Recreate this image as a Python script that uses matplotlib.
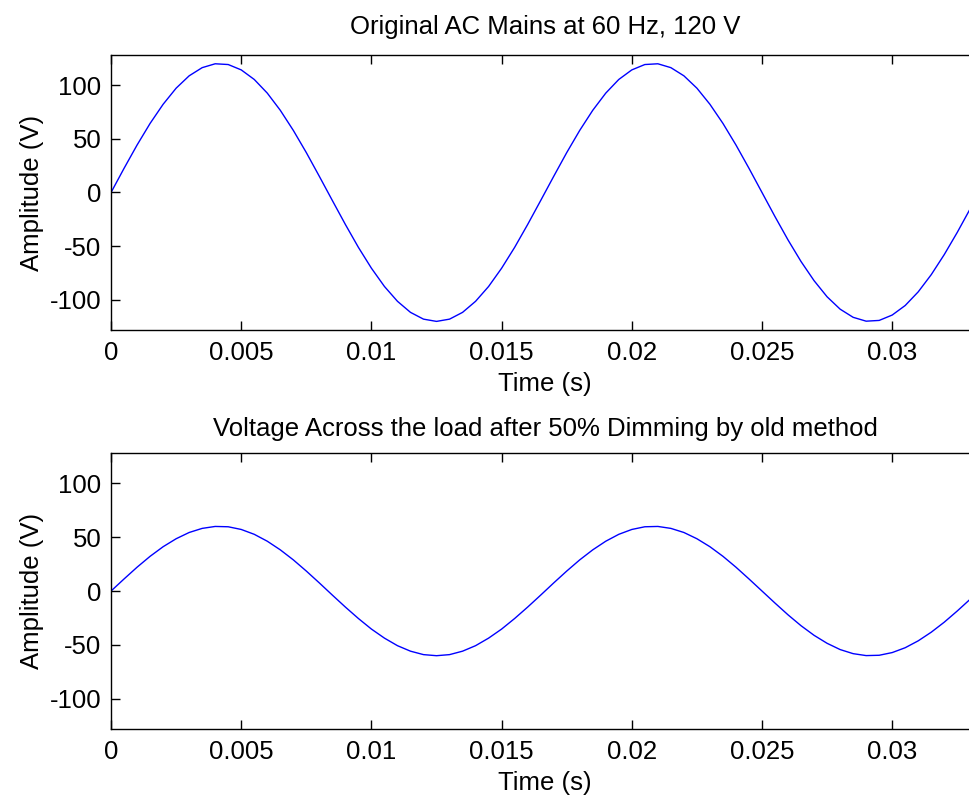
import matplotlib
matplotlib.use('Agg')
import matplotlib.pyplot as plt

# sample times (s) and voltages
time_s = [0.0000, 0.0005, 0.0010, 0.0015, 0.0020, 0.0025, 0.0030, 0.0035,
          0.0040, 0.0045, 0.0050, 0.0055, 0.0060, 0.0065, 0.0070, 0.0075,
          0.0080, 0.0085, 0.0090, 0.0095, 0.0100, 0.0105, 0.0110, 0.0115,
          0.0120, 0.0125, 0.0130, 0.0135, 0.0140, 0.0145, 0.0150, 0.0155,
          0.0160, 0.0165, 0.0170, 0.0175, 0.0180, 0.0185, 0.0190, 0.0195,
          0.0200, 0.0205, 0.0210, 0.0215, 0.0220, 0.0225, 0.0230, 0.0235,
          0.0240, 0.0245, 0.0250, 0.0255, 0.0260, 0.0265, 0.0270, 0.0275,
          0.0280, 0.0285, 0.0290, 0.0295, 0.0300, 0.0305, 0.0310, 0.0315,
          0.0320, 0.0325, 0.0330, 0.0335]

mains_v = [0.0, 22.5, 44.2, 64.3, 82.1, 97.1, 108.6, 116.2,
           119.8, 119.1, 114.1, 105.2, 92.5, 76.5, 57.8, 37.1,
           15.0, -7.5, -29.8, -51.1, -70.5, -87.5, -101.3, -111.6,
           -117.9, -120.0, -117.9, -111.6, -101.3, -87.5, -70.5, -51.1,
           -29.8, -7.5, 15.0, 37.1, 57.8, 76.5, 92.5, 105.2,
           114.1, 119.1, 119.8, 116.2, 108.6, 97.1, 82.1, 64.3,
           44.2, 22.5, 0.0, -22.5, -44.2, -64.3, -82.1, -97.1,
           -108.6, -116.2, -119.8, -119.1, -114.1, -105.2, -92.5, -76.5,
           -57.8, -37.1, -15.0, 7.5]

dimmed_v = [0.0, 11.2, 22.1, 32.2, 41.1, 48.5, 54.3, 58.1,
            59.9, 59.6, 57.1, 52.6, 46.2, 38.2, 28.9, 18.5,
            7.5, -3.8, -14.9, -25.5, -35.3, -43.7, -50.7, -55.8,
            -59.0, -60.0, -59.0, -55.8, -50.7, -43.7, -35.3, -25.5,
            -14.9, -3.8, 7.5, 18.5, 28.9, 38.2, 46.2, 52.6,
            57.1, 59.6, 59.9, 58.1, 54.3, 48.5, 41.1, 32.2,
            22.1, 11.2, 0.0, -11.2, -22.1, -32.2, -41.1, -48.5,
            -54.3, -58.1, -59.9, -59.6, -57.1, -52.6, -46.2, -38.2,
            -28.9, -18.5, -7.5, 3.8]

titles = ['Original AC Mains at 60 Hz, 120 V',
          'Voltage Across the load after 50% Dimming by old method']
xticks = [0, 0.005, 0.01, 0.015, 0.02, 0.025, 0.03]
xtick_labels = ['0', '0.005', '0.01', '0.015', '0.02', '0.025', '0.03']
yticks = [-100, -50, 0, 50, 100]

plt.rcParams['font.family'] = ['Liberation Sans', 'DejaVu Sans']
plt.rcParams['font.size'] = 18.5
plt.rcParams['axes.unicode_minus'] = False

fig = plt.figure(figsize=(9.69, 7.99), dpi=100)
# right edge of the axes runs slightly past the picture, as in the reference
ax1 = fig.add_axes([0.1146, 0.5870, 0.8957, 0.3442])
ax2 = fig.add_axes([0.1146, 0.0876, 0.8957, 0.3454])

for ax, volts, title, tpad in zip([ax1, ax2], [mains_v, dimmed_v], titles,
                                  [15, 12]):
    ax.plot(time_s, volts, color='#0000ff', lw=1.0)
    ax.set_xlim(0, 2.0 / 60)
    ax.set_ylim(-128, 128)
    ax.set_xticks(xticks)
    ax.set_xticklabels(xtick_labels)
    ax.set_yticks(yticks)
    ax.tick_params(direction='in', length=6.5, width=1.0, top=True,
                   right=True, labelsize=18.5)
    ax.tick_params(axis='x', pad=8)
    ax.tick_params(axis='y', pad=7)
    for sp in ax.spines.values():
        sp.set_linewidth(1.0)
    ax.set_xlabel('Time (s)', fontsize=18.5, labelpad=5)
    ax.set_ylabel('Amplitude (V)', fontsize=18.5, labelpad=4)
    ax.set_title(title, fontsize=18.5, pad=tpad)

fig.savefig('out.png', dpi=100)
